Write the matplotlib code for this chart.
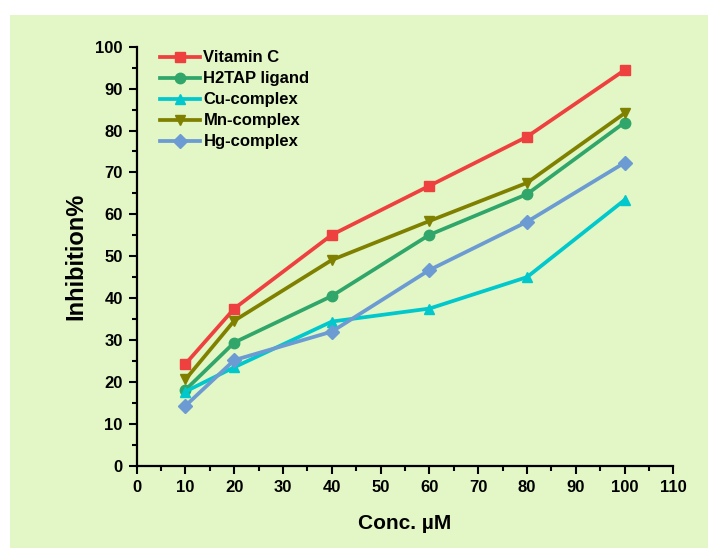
import matplotlib.pyplot as plt
from matplotlib.patches import Rectangle
from matplotlib.ticker import MultipleLocator

# Konzentrationen (µM) und Hemmung in %
conc = [10, 20, 40, 60, 80, 100]
vitamin_c = [24.3, 37.5, 55.1, 66.8, 78.5, 94.4]
h2tap = [18.1, 29.4, 40.5, 55.1, 64.8, 81.9]
cu_complex = [17.7, 23.5, 34.4, 37.5, 45.0, 63.4]
mn_complex = [20.6, 34.6, 49.1, 58.4, 67.5, 84.1]
hg_complex = [14.3, 25.2, 32.0, 46.7, 58.2, 72.3]

serien = [
    ("Vitamin C", vitamin_c, "#EF4040", "s"),
    ("H2TAP ligand", h2tap, "#30A66A", "o"),
    ("Cu-complex", cu_complex, "#00C8CC", "^"),
    ("Mn-complex", mn_complex, "#808000", "v"),
    ("Hg-complex", hg_complex, "#6B9BD2", "D"),
]

plt.rcParams["font.family"] = ["Liberation Sans", "DejaVu Sans"]
plt.rcParams["font.weight"] = "bold"

fig = plt.figure(figsize=(7.08, 5.48), dpi=100)
fig.patch.set_facecolor("white")
# grüner Hintergrund hinter dem Diagramm
fig.patches.append(Rectangle((10 / 708, 0), 698 / 708, 1 - 15 / 548,
                             transform=fig.transFigure, facecolor="#E2F7C5",
                             edgecolor="none", zorder=-10))

ax = fig.add_axes([136.7 / 708, 1 - 465.7 / 548, 536.6 / 708, 419 / 548])
ax.set_facecolor("none")

for name, werte, farbe, marker in serien:
    ax.plot(conc, werte, color=farbe, marker=marker, markersize=7.5,
            linewidth=2.7, label=name)

ax.set_xlim(0, 110)
ax.set_ylim(0, 100)
ax.xaxis.set_major_locator(MultipleLocator(10))
ax.xaxis.set_minor_locator(MultipleLocator(5))
ax.yaxis.set_major_locator(MultipleLocator(10))
ax.yaxis.set_minor_locator(MultipleLocator(5))

for side in ["top", "right"]:
    ax.spines[side].set_visible(False)
for side in ["left", "bottom"]:
    ax.spines[side].set_linewidth(1.6)

ax.tick_params(which="major", direction="out", length=6, width=1.5, labelsize=12, pad=4)
ax.tick_params(which="minor", direction="out", length=3.5, width=1.5)
for lbl in ax.get_xticklabels() + ax.get_yticklabels():
    lbl.set_fontweight("bold")

ax.set_xlabel("Conc. µM", fontsize=15, fontweight="bold", labelpad=14)
ax.set_ylabel("Inhibition%", fontsize=17, fontweight="bold", labelpad=6)

ax.legend(loc="upper left", bbox_to_anchor=(0.025, 1.015), frameon=False,
          fontsize=12, handlelength=2.4, handletextpad=0.2,
          labelspacing=0.36, borderaxespad=0.2)

fig.savefig("out.png", dpi=100)
